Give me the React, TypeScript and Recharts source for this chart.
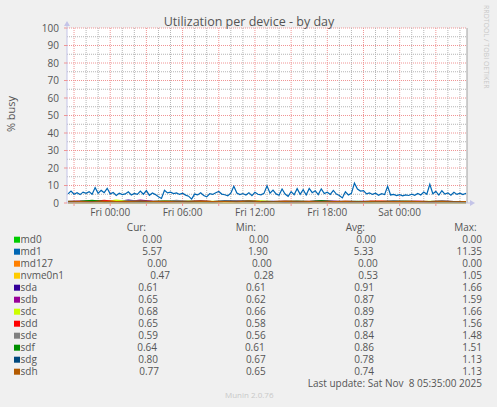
import React from "react";
import { LineChart, Line, XAxis, YAxis, ReferenceLine, CartesianGrid } from "recharts";

// ---------- data ----------
const devices = ["md0", "md1", "md127", "nvme0n1", "sda", "sdb", "sdc", "sdd", "sde", "sdf", "sdg", "sdh"];
const colors = ["#00CC00", "#0066B3", "#FF8000", "#FFCC00", "#330099", "#990099", "#CCFF00", "#FF0000", "#808080", "#008F00", "#00487D", "#B35A00"];

const curValues = ["0.00", "5.57", "0.00", "0.47", "0.61", "0.65", "0.68", "0.65", "0.59", "0.64", "0.80", "0.77"];
const minValues = ["0.00", "1.90", "0.00", "0.28", "0.61", "0.62", "0.66", "0.58", "0.56", "0.61", "0.67", "0.65"];
const avgValues = ["0.00", "5.33", "0.00", "0.53", "0.91", "0.87", "0.89", "0.87", "0.84", "0.86", "0.78", "0.74"];
const maxValues = ["0.00", "11.35", "0.00", "1.05", "1.66", "1.59", "1.66", "1.56", "1.48", "1.51", "1.13", "1.13"];

// hours relative to Fri 00:00
const xStart = -3.5833; // Thu 20:25
const xEnd = 29.5833; // Sat 05:35
const xLabelHours = [0, 6, 12, 18, 24];
const xTickLabels = ["Fri 00:00", "Fri 06:00", "Fri 12:00", "Fri 18:00", "Sat 00:00"];
const majorHours = [-3, 0, 3, 6, 9, 12, 15, 18, 21, 24, 27];
const minorHours = [-2, -1, 1, 2, 4, 5, 7, 8, 10, 11, 13, 14, 16, 17, 19, 20, 22, 23, 25, 26, 28, 29];
const yTicks = [0, 10, 20, 30, 40, 50, 60, 70, 80, 90, 100];
const yMajor = [10, 20, 30, 40, 50, 60, 70, 80, 90, 100];
const yMinor = [5, 15, 25, 35, 45, 55, 65, 75, 85, 95];

// md1 sampled every 15 minutes from Thu 20:30
const md1Start = -3.5;
const md1Step = 0.25;
const md1Values = [
  5.2, 6.8, 5.0, 5.9, 4.8, 6.2, 5.5, 6.5, 5.0, 8.8, 5.6, 7.2, 5.9, 8.4, 5.2, 6.0, 4.3, 5.6, 4.8, 5.2,
  6.4, 4.6, 5.5, 4.9, 6.8, 5.0, 7.1, 4.4, 5.7, 4.8, 3.6, 2.6, 7.3, 5.8, 6.2, 5.4, 5.8, 4.9, 5.6, 4.5,
  3.9, 2.2, 5.1, 4.6, 5.8, 4.3, 3.5, 5.3, 4.9, 5.9, 6.6, 5.1, 4.7, 4.1, 5.6, 9.6, 5.7, 4.8, 5.4, 4.6,
  5.9, 4.2, 6.1, 5.0, 4.7, 5.5, 9.8, 5.6, 7.4, 5.2, 4.4, 8.0, 5.1, 3.8, 6.5, 4.7, 8.2, 5.0, 7.6, 4.6,
  8.3, 5.9, 7.0, 4.8, 8.1, 5.4, 6.2, 4.9, 7.2, 5.1, 4.3, 2.9, 6.4, 4.6, 5.5, 11.35, 8.0, 6.8, 7.1, 5.2,
  5.8, 4.9, 5.6, 4.4, 5.3, 4.8, 9.6, 4.6, 4.9, 4.2, 4.8, 4.1, 4.6, 4.3, 5.0, 4.4, 5.4, 4.6, 6.3, 5.0,
  10.7, 5.3, 6.6, 4.5, 7.0, 5.1, 5.8, 4.4, 6.1, 4.9, 5.6, 4.8, 5.57,
];

// other devices sampled hourly from Thu 20:30
const hourlyStart = -3.5;
const hourlyStep = 1;
const md0Values = [0, 0, 0, 0, 0, 0, 0, 0, 0, 0, 0, 0, 0, 0, 0, 0, 0, 0, 0, 0, 0, 0, 0, 0, 0, 0, 0, 0, 0, 0, 0, 0, 0, 0];
const md127Values = [0, 0, 0, 0, 0, 0, 0, 0, 0, 0, 0, 0, 0, 0, 0, 0, 0, 0, 0, 0, 0, 0, 0, 0, 0, 0, 0, 0, 0, 0, 0, 0, 0, 0];
const nvme0n1Values = [0.45, 0.52, 0.61, 0.38, 0.49, 0.55, 1.05, 0.42, 0.5, 0.6, 0.33, 0.47, 0.58, 0.51, 0.44, 0.62, 0.28, 0.55, 0.49, 0.71, 0.46, 0.53, 0.6, 0.39, 0.57, 0.48, 0.66, 0.52, 0.43, 0.59, 0.5, 0.62, 0.45, 0.47];
const sdaValues = [0.88, 0.95, 1.12, 0.79, 0.86, 1.66, 0.92, 0.84, 0.97, 0.81, 1.05, 0.9, 0.77, 0.93, 1.21, 0.85, 0.88, 0.99, 0.72, 0.94, 0.86, 1.3, 0.83, 0.9, 0.78, 0.96, 0.87, 1.08, 0.82, 0.91, 0.76, 0.95, 0.84, 0.61];
const sdbValues = [0.84, 0.9, 0.79, 1.02, 0.86, 0.81, 1.59, 0.88, 0.76, 0.92, 0.85, 0.98, 0.8, 0.87, 0.91, 1.15, 0.78, 0.86, 0.83, 0.95, 0.62, 0.88, 1.1, 0.84, 0.79, 0.9, 0.86, 0.82, 1.04, 0.87, 0.8, 0.93, 0.85, 0.65];
const sdcValues = [0.9, 0.85, 0.97, 0.83, 1.66, 0.88, 0.92, 0.8, 0.95, 0.86, 1.1, 0.84, 0.91, 0.79, 0.96, 0.87, 1.25, 0.82, 0.89, 0.93, 0.78, 0.9, 0.85, 0.99, 0.66, 0.88, 0.94, 0.83, 1.05, 0.86, 0.91, 0.8, 0.87, 0.68];
const sddValues = [0.86, 0.92, 0.8, 1.56, 0.85, 0.83, 0.9, 0.97, 0.78, 0.88, 0.84, 1.2, 0.81, 0.89, 0.86, 0.93, 0.76, 0.87, 1.08, 0.82, 0.9, 0.85, 0.58, 0.91, 0.84, 0.88, 1.14, 0.8, 0.86, 0.95, 0.83, 0.89, 0.81, 0.65];
const sdeValues = [0.82, 0.88, 0.79, 0.91, 0.84, 1.1, 0.8, 0.86, 0.77, 1.48, 0.83, 0.89, 0.81, 0.85, 0.92, 0.78, 0.87, 0.83, 1.05, 0.8, 0.88, 0.84, 0.9, 0.56, 0.85, 0.82, 0.87, 0.96, 0.79, 0.86, 0.83, 0.91, 0.8, 0.59];
const sdfValues = [0.85, 0.9, 1.51, 0.82, 0.87, 0.8, 0.93, 0.84, 1.12, 0.86, 0.79, 0.91, 0.83, 0.88, 0.85, 1.02, 0.81, 0.87, 0.84, 0.9, 0.78, 1.18, 0.86, 0.82, 0.89, 0.61, 0.85, 0.92, 0.8, 0.87, 0.84, 0.96, 0.83, 0.64];
const sdgValues = [0.76, 0.79, 0.74, 0.82, 0.77, 0.8, 0.75, 0.95, 0.78, 0.73, 0.81, 0.76, 0.79, 1.13, 0.77, 0.74, 0.8, 0.78, 0.67, 0.82, 0.76, 0.79, 0.75, 0.84, 0.77, 0.73, 0.8, 0.78, 0.9, 0.76, 0.79, 0.74, 0.81, 0.8];
const sdhValues = [0.72, 0.75, 0.7, 0.78, 0.73, 0.76, 0.71, 0.74, 0.9, 0.72, 0.69, 0.77, 0.73, 0.75, 0.7, 1.13, 0.74, 0.72, 0.76, 0.65, 0.73, 0.71, 0.78, 0.74, 0.72, 0.85, 0.7, 0.75, 0.73, 0.76, 0.71, 0.74, 0.72, 0.77];

// ---------- build tables ----------
const toSeries = (vals: number[], start: number, step: number) =>
  vals.map((v, i) => ({ t: start + i * step, v }));

const seriesData: Record<string, { t: number; v: number }[]> = {
  md0: toSeries(md0Values, hourlyStart, hourlyStep),
  md1: toSeries(md1Values, md1Start, md1Step),
  md127: toSeries(md127Values, hourlyStart, hourlyStep),
  nvme0n1: toSeries(nvme0n1Values, hourlyStart, hourlyStep),
  sda: toSeries(sdaValues, hourlyStart, hourlyStep),
  sdb: toSeries(sdbValues, hourlyStart, hourlyStep),
  sdc: toSeries(sdcValues, hourlyStart, hourlyStep),
  sdd: toSeries(sddValues, hourlyStart, hourlyStep),
  sde: toSeries(sdeValues, hourlyStart, hourlyStep),
  sdf: toSeries(sdfValues, hourlyStart, hourlyStep),
  sdg: toSeries(sdgValues, hourlyStart, hourlyStep),
  sdh: toSeries(sdhValues, hourlyStart, hourlyStep),
};

// minor grid segments, drawn through the chart's own scales
const minorVertical = minorHours.map((h) => [{ t: h, v: 0 }, { t: h, v: 100 }]);
const minorHorizontal = yMinor.map((y) => [{ t: xStart, v: y }, { t: xEnd, v: y }]);

// ---------- layout ----------
const FONT = "'Open Sans', 'DejaVu Sans', sans-serif";
const TEXT = "#555555";
const MAJOR = "#f09494";
const MINOR = "#b4b4b4";
const AXIS = "#c4c4e8";

const legendBase = 242.7;
const legendStep = 12;
const colRight = { cur: 158, min: 265.7, avg: 374, max: 482 };
const rowShift = [
  [4, 3, 2], [4, 2, -0.5], [9, 6, 3.7], [12, 8, 4],
  [0, 0, 0], [0, 0, 0], [0, 0, 0], [0, 0, 0], [0, 0, 0], [-1, -1, 0], [0, 0, 0], [1, 0, 0],
];

const xTickFormat = (h: number) => {
  const idx = xLabelHours.indexOf(h);
  return idx >= 0 ? xTickLabels[idx] : "";
};

const mapThrough = (axis: any, v: number, fallback: () => number) => {
  const s = axis?.scale;
  if (typeof s === "function") return s(v);
  if (s && typeof s.map === "function") return s.map(v);
  return fallback();
};
const xGen = (values: number[]) => (props: any) => {
  const off = props?.offset || {};
  return values.map((v) =>
    mapThrough(props?.xAxis, v, () => off.left + ((v - xStart) / (xEnd - xStart)) * off.width)
  ).filter((p: any) => typeof p === "number" && isFinite(p));
};
const yGen = (values: number[]) => (props: any) => {
  const off = props?.offset || {};
  return values.map((v) =>
    mapThrough(props?.yAxis, v, () => off.top + (1 - v / 100) * off.height)
  ).filter((p: any) => typeof p === "number" && isFinite(p));
};

export default function App() {
  return (
    <div
      style={{
        position: "absolute",
        left: 0,
        top: 0,
        width: 497,
        height: 407,
        background: "#F0F0F0",
        fontFamily: FONT,
        overflow: "hidden",
      }}
    >
      <div style={{ position: "absolute", left: 0, top: 0 }}>
        <LineChart width={497} height={230} margin={{ top: 28, right: 30, bottom: 0, left: 27 }}>
          <CartesianGrid
            fill="#ffffff"
            stroke={MAJOR}
            strokeDasharray="1 1"
            verticalCoordinatesGenerator={xGen(majorHours)}
            horizontalCoordinatesGenerator={yGen(yMajor)}
          />
          <XAxis
            type="number"
            dataKey="t"
            domain={[xStart, xEnd]}
            ticks={majorHours}
            tickFormatter={xTickFormat}
            allowDataOverflow
            height={27}
            tickSize={3}
            tickMargin={3}
            interval={0}
            axisLine={{ stroke: AXIS }}
            tickLine={{ stroke: MAJOR }}
            tick={{ fill: TEXT, fontSize: 10, fontFamily: FONT }}
          />
          <YAxis
            type="number"
            domain={[0, 100]}
            ticks={yTicks}
            width={40}
            tickSize={3}
            tickMargin={5}
            interval={0}
            axisLine={{ stroke: AXIS }}
            tickLine={{ stroke: MAJOR }}
            tick={{ fill: TEXT, fontSize: 10, fontFamily: FONT }}
          />
          {minorVertical.map((seg, i) => (
            <Line
              key={"gv" + i}
              data={seg}
              dataKey="v"
              type="linear"
              stroke={MINOR}
              strokeWidth={1}
              strokeDasharray="1 1"
              dot={false}
              activeDot={false}
              legendType="none"
              isAnimationActive={false}
            />
          ))}
          {minorHorizontal.map((seg, i) => (
            <Line
              key={"gh" + i}
              data={seg}
              dataKey="v"
              type="linear"
              stroke={MINOR}
              strokeWidth={1}
              strokeDasharray="1 1"
              dot={false}
              activeDot={false}
              legendType="none"
              isAnimationActive={false}
            />
          ))}
          <ReferenceLine x={xEnd} stroke="#a0a0a0" />
          {devices.map((d, i) => (
            <Line
              key={d}
              data={seriesData[d]}
              dataKey="v"
              type="linear"
              stroke={colors[i]}
              strokeWidth={1.2}
              dot={false}
              isAnimationActive={false}
            />
          ))}
        </LineChart>
      </div>
      <svg width={497} height={407} style={{ position: "absolute", left: 0, top: 0 }} fontFamily={FONT}>
        {/* axis arrows */}
        <line x1={67} y1={23} x2={67} y2={28} stroke={AXIS} />
        <polygon points="64,26 70,26 67,21" fill={AXIS} />
        <line x1={467} y1={203} x2={471} y2={203} stroke={AXIS} />
        <polygon points="470,200 470,206 475,203" fill={AXIS} />

        <text x={249} y={25.7} textAnchor="middle" fontSize={12.5} fill={TEXT}>
          Utilization per device - by day
        </text>
        <text x={15} y={114} textAnchor="middle" fontSize={11} fill={TEXT} transform="rotate(-90 15 114)">
          % busy
        </text>
        <text x={484} y={5} fontSize={7} fill="#c8c8c8" transform="rotate(90 484 5)">
          RRDTOOL / TOBI OETIKER
        </text>

        <text x={146} y={230.7} textAnchor="end" fontSize={10} fill={TEXT}>Cur:</text>
        <text x={256} y={230.7} textAnchor="end" fontSize={10} fill={TEXT}>Min:</text>
        <text x={365} y={230.7} textAnchor="end" fontSize={10} fill={TEXT}>Avg:</text>
        <text x={476.7} y={230.7} textAnchor="end" fontSize={10} fill={TEXT}>Max:</text>

        {devices.map((d, i) => {
          const y = legendBase + i * legendStep;
          const s = rowShift[i];
          return (
            <g key={d}>
              <rect x={14} y={y - 6} width={6} height={6} fill={colors[i]} />
              <text x={20.5} y={y} fontSize={10} fill={TEXT}>{d}</text>
              <text x={colRight.cur + s[0]} y={y} textAnchor="end" fontSize={10} fill={TEXT}>{curValues[i]}</text>
              <text x={colRight.min + s[1]} y={y} textAnchor="end" fontSize={10} fill={TEXT}>{minValues[i]}</text>
              <text x={colRight.avg + s[2]} y={y} textAnchor="end" fontSize={10} fill={TEXT}>{avgValues[i]}</text>
              <text x={colRight.max} y={y} textAnchor="end" fontSize={10} fill={TEXT}>{maxValues[i]}</text>
            </g>
          );
        })}

        <text x={482} y={386.7} textAnchor="end" fontSize={10} fill={TEXT} style={{ whiteSpace: "pre" }}>
          {"Last update: Sat Nov  8 05:35:00 2025"}
        </text>
        <text x={225} y={398} fontSize={8} fill="#c8c8c8">Munin 2.0.76</text>
      </svg>
    </div>
  );
}
